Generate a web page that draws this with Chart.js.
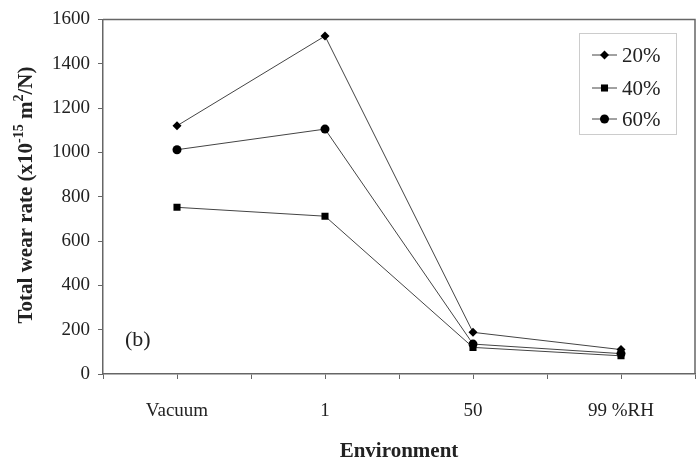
<!DOCTYPE html>
<html>
<head>
<meta charset="utf-8">
<script src="https://cdn.jsdelivr.net/npm/chart.js@4/dist/chart.umd.min.js"></script>
<style>
  html, body { margin: 0; padding: 0; background: #fff; }
  #wrap { width: 700px; height: 464px; }
</style>
</head>
<body>
<div id="wrap"><canvas id="myChart" width="700" height="464"></canvas></div>
<script>
const environments = ["Vacuum", "1", "50", "99 %RH"];
const rh20 = [1120, 1525, 188, 110];
const rh40 = [752, 712, 120, 82];
const rh60 = [1012, 1105, 135, 92];
const yTicks = [0, 200, 400, 600, 800, 1000, 1200, 1400, 1600];

const SERIF = "'Liberation Serif', 'Times New Roman', serif";
const INK = "#222";
const LINE = "#444";

// category index -> x position on a linear axis, so ticks fall at centres and boundaries
const toPoints = (vals) => vals.map((v, i) => ({ x: i, y: v }));

const series = [
  { label: "20%", data: rh20, pointStyle: "rectRot", pointRadius: 4.5 },
  { label: "40%", data: rh40, pointStyle: "rect", pointRadius: 5 },
  { label: "60%", data: rh60, pointStyle: "circle", pointRadius: 4.5 }
];

// frame, y title with superscripts, panel tag and legend box
const decor = {
  id: "decor",
  afterDraw(chart) {
    const c = chart.ctx;
    const a = chart.chartArea;
    c.save();
    c.strokeStyle = "#666";
    c.lineWidth = 1.5;
    c.beginPath();
    c.moveTo(a.left, a.top);
    c.lineTo(a.right, a.top);
    c.lineTo(a.right, a.bottom);
    c.stroke();

    // y axis title
    c.translate(27, 195);
    c.rotate(-Math.PI / 2);
    c.fillStyle = INK;
    c.textBaseline = "middle";
    const big = "bold 21px " + SERIF;
    const small = "bold 14px " + SERIF;
    const parts = [
      ["Total wear rate (x10", big, 0],
      ["-15", small, -8],
      [" m", big, 0],
      ["2", small, -8],
      ["/N)", big, 0]
    ];
    let total = 0;
    parts.forEach(p => { c.font = p[1]; total += c.measureText(p[0]).width; });
    let x = -total / 2;
    parts.forEach(p => {
      c.font = p[1];
      c.fillText(p[0], x, p[2]);
      x += c.measureText(p[0]).width;
    });
    c.restore();

    // panel tag
    c.save();
    c.font = "22px " + SERIF;
    c.fillStyle = INK;
    c.textBaseline = "middle";
    c.fillText("(b)", 125, 340);
    c.restore();

    // legend
    c.save();
    c.strokeStyle = "#ccc";
    c.lineWidth = 1;
    c.strokeRect(579.5, 33.5, 97, 101);
    const rows = [55, 88, 119];
    chart.data.datasets.forEach((ds, i) => {
      const y = rows[i];
      c.strokeStyle = LINE;
      c.lineWidth = 1;
      c.beginPath();
      c.moveTo(592, y);
      c.lineTo(617, y);
      c.stroke();
      c.fillStyle = "#000";
      Chart.helpers.drawPoint(c, { pointStyle: ds.pointStyle, radius: ds.pointRadius, borderWidth: 0 }, 604.5, y);
      c.fillStyle = INK;
      c.font = "21px " + SERIF;
      c.textBaseline = "middle";
      c.fillText(ds.label, 622, y + 1);
    });
    c.restore();
  }
};

const ctx = document.getElementById("myChart").getContext("2d");
const myChart = new Chart(ctx, {
  type: "line",
  data: {
    datasets: series.map(s => ({
      label: s.label,
      data: toPoints(s.data),
      borderColor: LINE,
      borderWidth: 1,
      backgroundColor: "#000",
      pointBackgroundColor: "#000",
      pointBorderColor: "#000",
      pointBorderWidth: 0,
      pointStyle: s.pointStyle,
      pointRadius: s.pointRadius,
      tension: 0
    }))
  },
  options: {
    responsive: false,
    animation: false,
    devicePixelRatio: 1,
    layout: { padding: { top: 17, right: 2, left: 0, bottom: 0 } },
    plugins: { legend: { display: false }, tooltip: { enabled: false } },
    scales: {
      x: {
        type: "linear",
        min: -0.5,
        max: 3.5,
        afterFit(scale) {
          scale.height = 90;
          scale.paddingLeft = 0;
          scale.paddingRight = 0;
        },
        afterBuildTicks(scale) {
          const t = [];
          for (let v = -0.5; v <= 3.5; v += 0.5) t.push({ value: v });
          scale.ticks = t;
        },
        ticks: {
          autoSkip: false,
          maxRotation: 0,
          padding: 21,
          color: INK,
          font: { family: SERIF, size: 19 },
          callback: (v) => Number.isInteger(v) ? environments[v] : ""
        },
        grid: { drawOnChartArea: false, tickLength: 5, tickColor: "#666", tickWidth: 1 },
        border: { color: "#666", width: 1.5 },
        title: {
          display: true,
          text: "Environment",
          color: INK,
          font: { family: SERIF, size: 21, weight: "bold" },
          padding: { top: 0, bottom: 0 }
        }
      },
      y: {
        min: 0,
        max: 1600,
        afterFit(scale) { scale.width = 103; },
        afterBuildTicks(scale) { scale.ticks = yTicks.map(v => ({ value: v })); },
        ticks: {
          padding: 8,
          color: INK,
          font: { family: SERIF, size: 19 },
          callback: (v) => String(v)
        },
        grid: { drawOnChartArea: false, tickLength: 5, tickColor: "#666", tickWidth: 1 },
        border: { color: "#666", width: 1.5 }
      }
    }
  },
  plugins: [decor]
});
</script>
</body>
</html>
